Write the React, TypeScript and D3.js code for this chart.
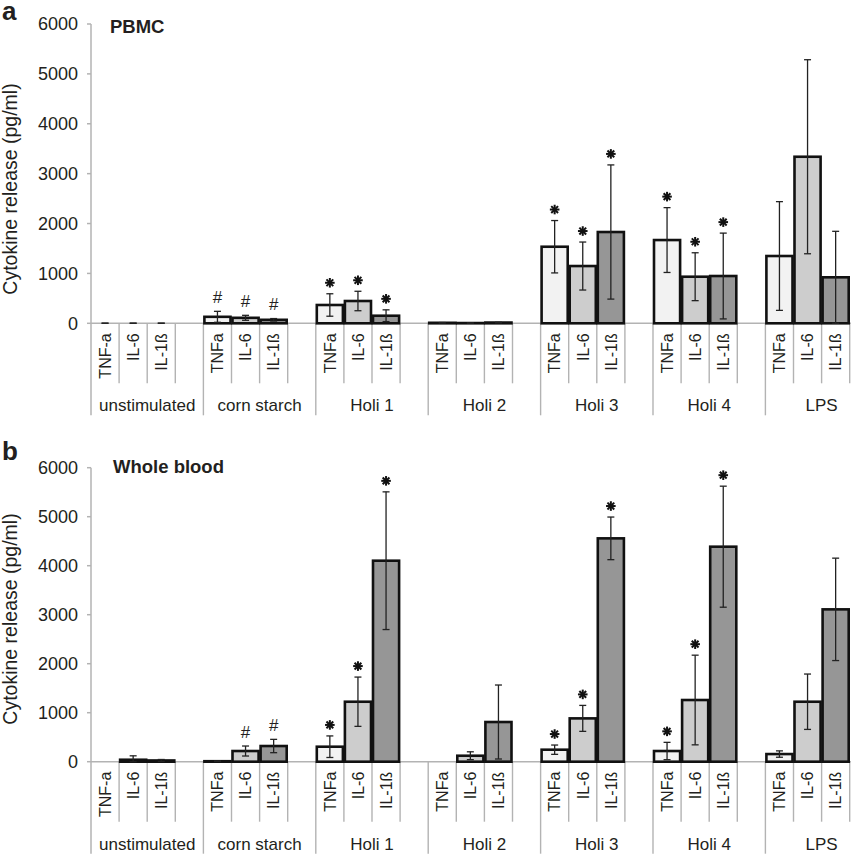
import React from "react";
import * as d3 from "d3";

const groups = ["unstimulated", "corn starch", "Holi 1", "Holi 2", "Holi 3", "Holi 4", "LPS"];
const cytoLabelsFirst = ["TNF-a", "IL-6", "IL-1ß"];
const cytoLabels = ["TNFa", "IL-6", "IL-1ß"];
const yTicks = [0, 1000, 2000, 3000, 4000, 5000, 6000];

// PBMC (panel a): mean and SD per group, order TNFa, IL-6, IL-1ß
const pbmcMean = [
  [0, 0, 0],
  [130, 110, 70],
  [367, 447, 152],
  [10, 5, 15],
  [1535, 1148, 1830],
  [1669, 934, 948],
  [1349, 3339, 922],
];
const pbmcSd = [
  [4, 4, 4],
  [110, 50, 25],
  [225, 195, 118],
  [5, 3, 5],
  [525, 481, 1345],
  [650, 480, 860],
  [1090, 1945, 922],
];
const pbmcSig = [
  ["", "", ""],
  ["#", "#", "#"],
  ["*", "*", "*"],
  ["", "", ""],
  ["*", "*", "*"],
  ["*", "*", "*"],
  ["", "", ""],
];

// Whole blood (panel b)
const wbMean = [
  [0, 40, 25],
  [10, 218, 320],
  [306, 1224, 4102],
  [0, 122, 810],
  [245, 884, 4558],
  [218, 1259, 4388],
  [156, 1224, 3109],
];
const wbSd = [
  [0, 80, 20],
  [5, 102, 136],
  [220, 503, 1405],
  [0, 80, 755],
  [95, 265, 435],
  [177, 915, 1235],
  [65, 565, 1045],
];
const wbSig = [
  ["", "", ""],
  ["", "#", "#"],
  ["*", "*", "*"],
  ["", "", ""],
  ["*", "*", "*"],
  ["*", "*", "*"],
  ["", "", ""],
];

const fills = ["#f2f2f2", "#cdcdcd", "#969696"];
const FONT = "'Liberation Sans', Arial, Helvetica, sans-serif";
const GRID = "#b3b3b3";
const TXT = "#231f20";

const slots = d3.range(groups.length * 4);
const x = d3.scaleBand<number>().domain(slots).range([91, 91 + 28.1 * slots.length]).padding(0);

type PanelProps = {
  letter: string;
  title: string;
  means: number[][];
  sds: number[][];
  sig: string[][];
  top: number;
  base: number;
  letterY: number;
  titleY: number;
  ytitleY: number;
  titleX: number;
};

function Asterisk({ cx, cy }: { cx: number; cy: number }) {
  const r = 4.8;
  const angles = [0, 45, 90, 135];
  return (
    <g stroke="#111" strokeWidth={2} strokeLinecap="butt">
      {angles.map((a) => {
        const rad = (a * Math.PI) / 180;
        return (
          <line
            key={a}
            x1={cx - r * Math.cos(rad)}
            y1={cy - r * Math.sin(rad)}
            x2={cx + r * Math.cos(rad)}
            y2={cy + r * Math.sin(rad)}
          />
        );
      })}
    </g>
  );
}

function Panel(p: PanelProps) {
  const y = d3.scaleLinear().domain([0, 6000]).range([p.base, p.top]);
  const bw = x.bandwidth();
  const innerBottom = p.base + 60;
  const groupBottom = p.base + 92;
  const right = 851;
  return (
    <g fontFamily={FONT}>
      <text x={2} y={p.letterY} fontSize={26} fontWeight="bold" fill={TXT}>
        {p.letter}
      </text>
      <text x={p.titleX} y={p.titleY} fontSize={18.5} fontWeight="bold" fill={TXT}>
        {p.title}
      </text>
      <text
        transform={`translate(17,${p.ytitleY}) rotate(-90)`}
        textAnchor="middle"
        fontSize={19.5}
        fill={TXT}
      >
        Cytokine release (pg/ml)
      </text>
      {/* y axis */}
      <line x1={x(0)!} x2={x(0)!} y1={y(6000)} y2={groupBottom} stroke={GRID} strokeWidth={1.5} />
      {yTicks.map((t) => (
        <g key={t}>
          <line x1={x(0)! - 4} x2={x(0)!} y1={y(t)} y2={y(t)} stroke={GRID} strokeWidth={1.5} />
          <text x={78} y={y(t)} dy="0.36em" textAnchor="end" fontSize={18} fill={TXT}>
            {t}
          </text>
        </g>
      ))}
      {/* baseline */}
      <line x1={x(0)!} x2={right} y1={p.base} y2={p.base} stroke={GRID} strokeWidth={1.6} />
      {/* separators */}
      {slots.map((s) => {
        const isGroup = s % 4 === 0;
        if (s === 0) return null;
        return (
          <line
            key={s}
            x1={x(s)!}
            x2={x(s)!}
            y1={p.base}
            y2={isGroup ? groupBottom : innerBottom}
            stroke={GRID}
            strokeWidth={1.4}
          />
        );
      })}
      {/* bars */}
      {p.means.map((row, g) =>
        row.map((v, i) => {
          const s = g * 4 + i;
          const x0 = x(s)!;
          const cx = x0 + bw / 2;
          const sd = p.sds[g][i];
          const eTop = y(v + sd);
          const eBot = y(Math.max(0, v - sd));
          const mark = p.sig[g][i];
          return (
            <g key={`${g}-${i}`}>
              {v > 0 && (
                <rect
                  x={x0 + 1}
                  y={y(v)}
                  width={bw - 2}
                  height={p.base - y(v)}
                  fill={fills[i]}
                  stroke="#111"
                  strokeWidth={2.6}
                />
              )}
              {sd > 0 && (
                <g stroke="#222" strokeWidth={1.3}>
                  <line x1={cx} x2={cx} y1={eTop} y2={eBot} />
                  <line x1={cx - 3.5} x2={cx + 3.5} y1={eTop} y2={eTop} />
                  <line x1={cx - 3.5} x2={cx + 3.5} y1={eBot} y2={eBot} />
                </g>
              )}
              {mark === "*" && <Asterisk cx={cx} cy={eTop - 11} />}
              {mark === "#" && (
                <text x={cx} y={eTop - 8.5} textAnchor="middle" fontSize={17} fill={TXT}>
                  #
                </text>
              )}
            </g>
          );
        })
      )}
      {/* rotated cytokine labels */}
      {groups.map((gname, g) =>
        (g === 0 ? cytoLabelsFirst : cytoLabels).map((lab, i) => {
          const cx = x(g * 4 + i)! + bw / 2;
          return (
            <text
              key={`${g}-${i}`}
              transform={`translate(${cx + 5.8},${p.base + 10}) rotate(-90)`}
              textAnchor="end"
              fontSize={16}
              fill={TXT}
            >
              {lab}
            </text>
          );
        })
      )}
      {/* group labels */}
      {groups.map((gname, g) => (
        <text
          key={gname}
          x={x(g * 4)! + (bw * 4) / 2}
          y={p.base + 88}
          textAnchor="middle"
          fontSize={17}
          fill={TXT}
        >
          {gname}
        </text>
      ))}
    </g>
  );
}

export default function App() {
  return (
    <svg
      width={851}
      height={854}
      viewBox="0 0 851 854"
      style={{ position: "absolute", left: 0, top: 0, background: "#fff" }}
    >
      <rect width={851} height={854} fill="#fff" />
      <Panel
        letter="a"
        title="PBMC"
        means={pbmcMean}
        sds={pbmcSd}
        sig={pbmcSig}
        top={24}
        base={323.3}
        letterY={20}
        titleY={33}
        ytitleY={189}
        titleX={110}
      />
      <Panel
        letter="b"
        title="Whole blood"
        means={wbMean}
        sds={wbSd}
        sig={wbSig}
        top={467.7}
        base={761.7}
        letterY={460}
        titleY={472.5}
        ytitleY={619}
        titleX={113}
      />
    </svg>
  );
}
